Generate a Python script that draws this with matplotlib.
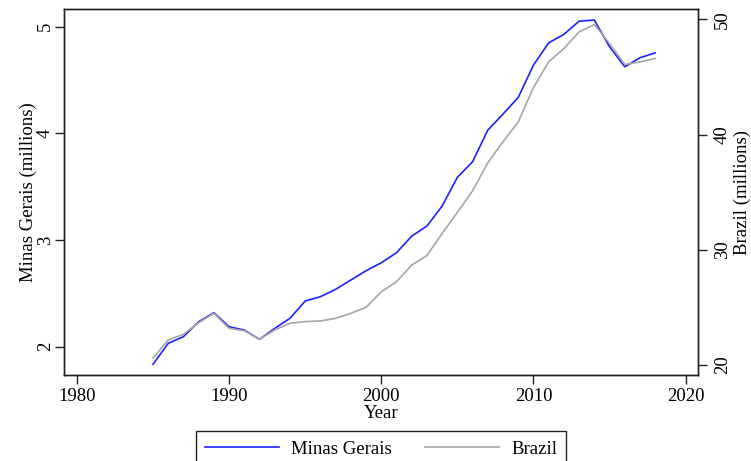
import matplotlib
matplotlib.use("Agg")
import matplotlib.pyplot as plt

plt.rcParams['font.family'] = ['Liberation Serif', 'DejaVu Serif']

years = list(range(1985, 2019))
minas_gerais = [1.835, 2.032, 2.094, 2.234, 2.319, 2.187, 2.156, 2.069, 2.172, 2.266,
                2.428, 2.469, 2.538, 2.625, 2.712, 2.787, 2.881, 3.037, 3.131, 3.319,
                3.588, 3.734, 4.031, 4.181, 4.337, 4.640, 4.849, 4.928, 5.052, 5.062,
                4.812, 4.624, 4.709, 4.755]
brazil = [20.58, 22.17, 22.66, 23.67, 24.48, 23.18, 22.97, 22.23, 23.04, 23.62,
          23.76, 23.82, 24.05, 24.48, 25.00, 26.36, 27.22, 28.67, 29.50, 31.42,
          33.24, 35.12, 37.55, 39.37, 41.10, 44.08, 46.31, 47.47, 48.91, 49.55,
          47.90, 46.08, 46.31, 46.60]
x_ticks = [1980, 1990, 2000, 2010, 2020]
left_ticks = [2, 3, 4, 5]
right_ticks = [20, 30, 40, 50]

FS = 13.5
TICK_LEN = 6.3
fig = plt.figure(figsize=(7.51, 4.61), dpi=100)
ax = fig.add_axes([0.0852, 0.1866, 0.929 - 0.0852, 0.9798 - 0.1866])
ax2 = ax.twinx()

l1, = ax.plot(years, minas_gerais, color='#1f1fff', lw=1.2, label='Minas Gerais')
l2, = ax2.plot(years, brazil, color='#a6a6a6', lw=1.2, label='Brazil')

ax.set_xlim(1979.15, 2020.79)
ax.set_ylim(1.735, 5.163)
ax2.set_ylim(19.13, 50.87)

ax.set_xticks(x_ticks)
ax.set_yticks(left_ticks)
ax2.set_yticks(right_ticks)

for a in (ax, ax2):
    for s in a.spines.values():
        s.set_linewidth(1.0)
        s.set_color('#222222')
    a.tick_params(length=TICK_LEN, width=1.0, color='#222222', labelsize=FS)

ax.tick_params(axis='x', pad=2.9)
ax.tick_params(axis='y', labelrotation=90, pad=0.8)
ax2.tick_params(axis='y', labelrotation=90, pad=5.4)
for t in ax.get_yticklabels():
    t.set_va('center')
for t in ax2.get_yticklabels():
    t.set_va('center')

ax.set_xlabel('Year', fontsize=FS, labelpad=0)
ax.set_ylabel('Minas Gerais (millions)', fontsize=FS)
ax2.set_ylabel('Brazil (millions)', fontsize=FS)
ax.yaxis.set_label_coords(-0.0426, 0.5)
ax2.yaxis.set_label_coords(1.0575, 0.5)

fig.legend([l1, l2], ['Minas Gerais', 'Brazil'], loc='upper center',
           bbox_to_anchor=(381 / 751, 1 - 431 / 461), ncol=2, fontsize=FS,
           frameon=True, fancybox=False, edgecolor='#222222', framealpha=1,
           handlelength=3.95, handletextpad=0.65, columnspacing=1.75,
           borderpad=0.5, borderaxespad=0)

fig.savefig('out.png', dpi=100)
